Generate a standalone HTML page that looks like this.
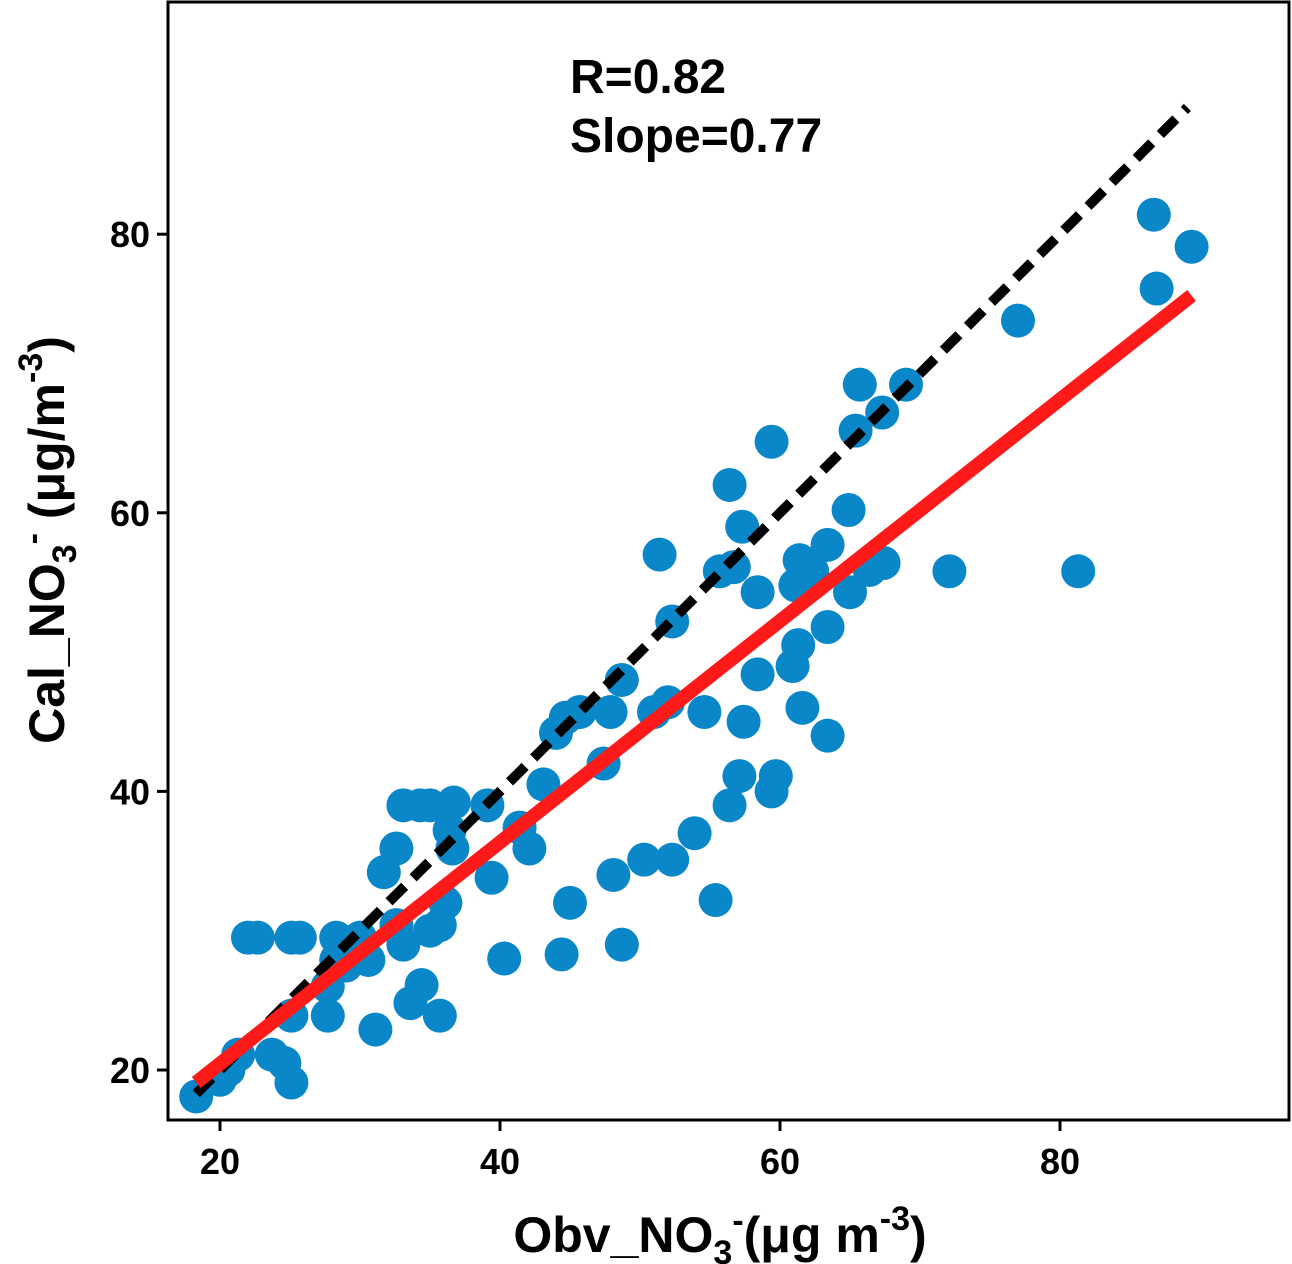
<!DOCTYPE html>
<html><head><meta charset="utf-8"><style>
html,body{margin:0;padding:0;background:#fff;}
svg{display:block;font-family:"Liberation Sans",Arial,sans-serif;font-weight:bold;}
</style></head><body>
<svg id="chart" width="1292" height="1264" viewBox="0 0 1292 1264" xmlns="http://www.w3.org/2000/svg">
<rect x="168" y="2" width="1121" height="1118" fill="none" stroke="#000" stroke-width="3"/>
<g id="marks"></g>
<g id="axes"></g>
<text x="570" y="93" font-size="48">R=0.82</text>
<text x="570" y="152" font-size="48">Slope=0.77</text>
<text x="720" y="1252" font-size="50" text-anchor="middle">Obv_NO<tspan font-size="34" dy="12">3</tspan><tspan font-size="34" dy="-32">-</tspan><tspan dy="20">(μg m</tspan><tspan font-size="34" dy="-22">-3</tspan><tspan dy="22">)</tspan></text>
<text transform="translate(64,540) rotate(-90)" font-size="50" text-anchor="middle">Cal_NO<tspan font-size="34" dy="12">3</tspan><tspan font-size="34" dy="-32">-</tspan><tspan dy="20"> (μg/m</tspan><tspan font-size="34" dy="-22">-3</tspan><tspan dy="22">)</tspan></text>
</svg>
<script>
const obs = [18.3,20,20.6,21.3,22,22.7,23.7,24.6,25.1,25.1,25.1,25.7,27.7,27.7,28.3,28.3,29,30,30.6,31.1,31.7,32.6,32.6,33.1,33.1,33.6,34.3,34.4,35,35,35.7,35.7,36.1,36.4,36.6,36.7,39.1,39.4,40.3,41.4,42.1,43.1,44,44.4,45,44.7,45.7,47.4,47.9,48.1,48.7,48.7,50.3,51,51.4,52.3,52.3,52,53.9,54.6,55.4,55.7,56.4,56.4,56.7,57.1,57.3,57.4,58.4,58.4,59.4,59.4,59.7,60.9,61.1,61.3,61.4,61.6,62.3,63.4,63.4,63.4,64.9,65,65.4,65.7,66.4,67.3,67.4,69,72.1,77,81.3,86.7,86.9,89.4];
const cal = [18.1,19.3,20,21.1,29.5,29.5,21.1,20.5,19.1,23.9,29.5,29.5,23.9,26,29.5,27.9,27.5,29.5,27.9,22.9,34.2,35.9,30.4,29,39,24.8,39,26.1,39,30,23.9,30.4,32,37.2,35.9,39.2,39,33.8,28,37.4,35.9,40.5,44.2,28.3,32,45.3,45.7,42,45.7,34,48,29,35.1,45.7,57,52.2,35.1,46.4,37,45.7,32.2,55.8,62,39,56.1,41.1,59,45,54.3,48.4,65.1,40,41.1,49,54.8,50.5,56.6,46,55.8,57.7,51.8,44,60.2,54.3,65.9,69.2,55.9,67.2,56.4,69.2,55.8,73.8,55.8,81.4,76.1,79.1];
const xTicks = [20,40,60,80];
const yTicks = [20,40,60,80];
const oneToOne = [18.3,89.1];
const fitX = [18.3,89.4];
const fitY = [19.1,75.6];
const NS="http://www.w3.org/2000/svg";
const xs = v => -60 + 14*v;
const ys = v => 1070 - (v-20)*13.93;
function mk(t,a){const e=document.createElementNS(NS,t);for(const k in a)e.setAttribute(k,a[k]);return e;}
const marks=document.getElementById('marks'), axes=document.getElementById('axes');
for(let i=0;i<obs.length;i++){
  const c=mk('circle',{cx:xs(obs[i]),cy:ys(cal[i]),r:17,fill:'#0a87c9'});
  
  
  marks.appendChild(c);
}
const d=mk('line',{x1:xs(oneToOne[0]),y1:ys(oneToOne[0]),x2:xs(oneToOne[1]),y2:ys(oneToOne[1]),stroke:'#000','stroke-width':10,'stroke-dasharray':'22 12'});


marks.appendChild(d);
const f=mk('line',{x1:xs(fitX[0]),y1:ys(fitY[0]),x2:xs(fitX[1]),y2:ys(fitY[1]),stroke:'#ff1a1a','stroke-width':14});


marks.appendChild(f);
xTicks.forEach(v=>{
  const l=mk('line',{x1:xs(v),x2:xs(v),y1:1120,y2:1131,stroke:'#000','stroke-width':3});
  
  
  axes.appendChild(l);
  const t=mk('text',{x:xs(v),y:1174,'font-size':36,'text-anchor':'middle'});
  t.textContent=v;
  
  
  axes.appendChild(t);
});
yTicks.forEach(v=>{
  const l=mk('line',{x1:157,x2:168,y1:ys(v),y2:ys(v),stroke:'#000','stroke-width':3});
  
  
  axes.appendChild(l);
  const t=mk('text',{x:150,y:ys(v)+13,'font-size':36,'text-anchor':'end'});
  t.textContent=v;
  
  
  axes.appendChild(t);
});
</script>
</body></html>
